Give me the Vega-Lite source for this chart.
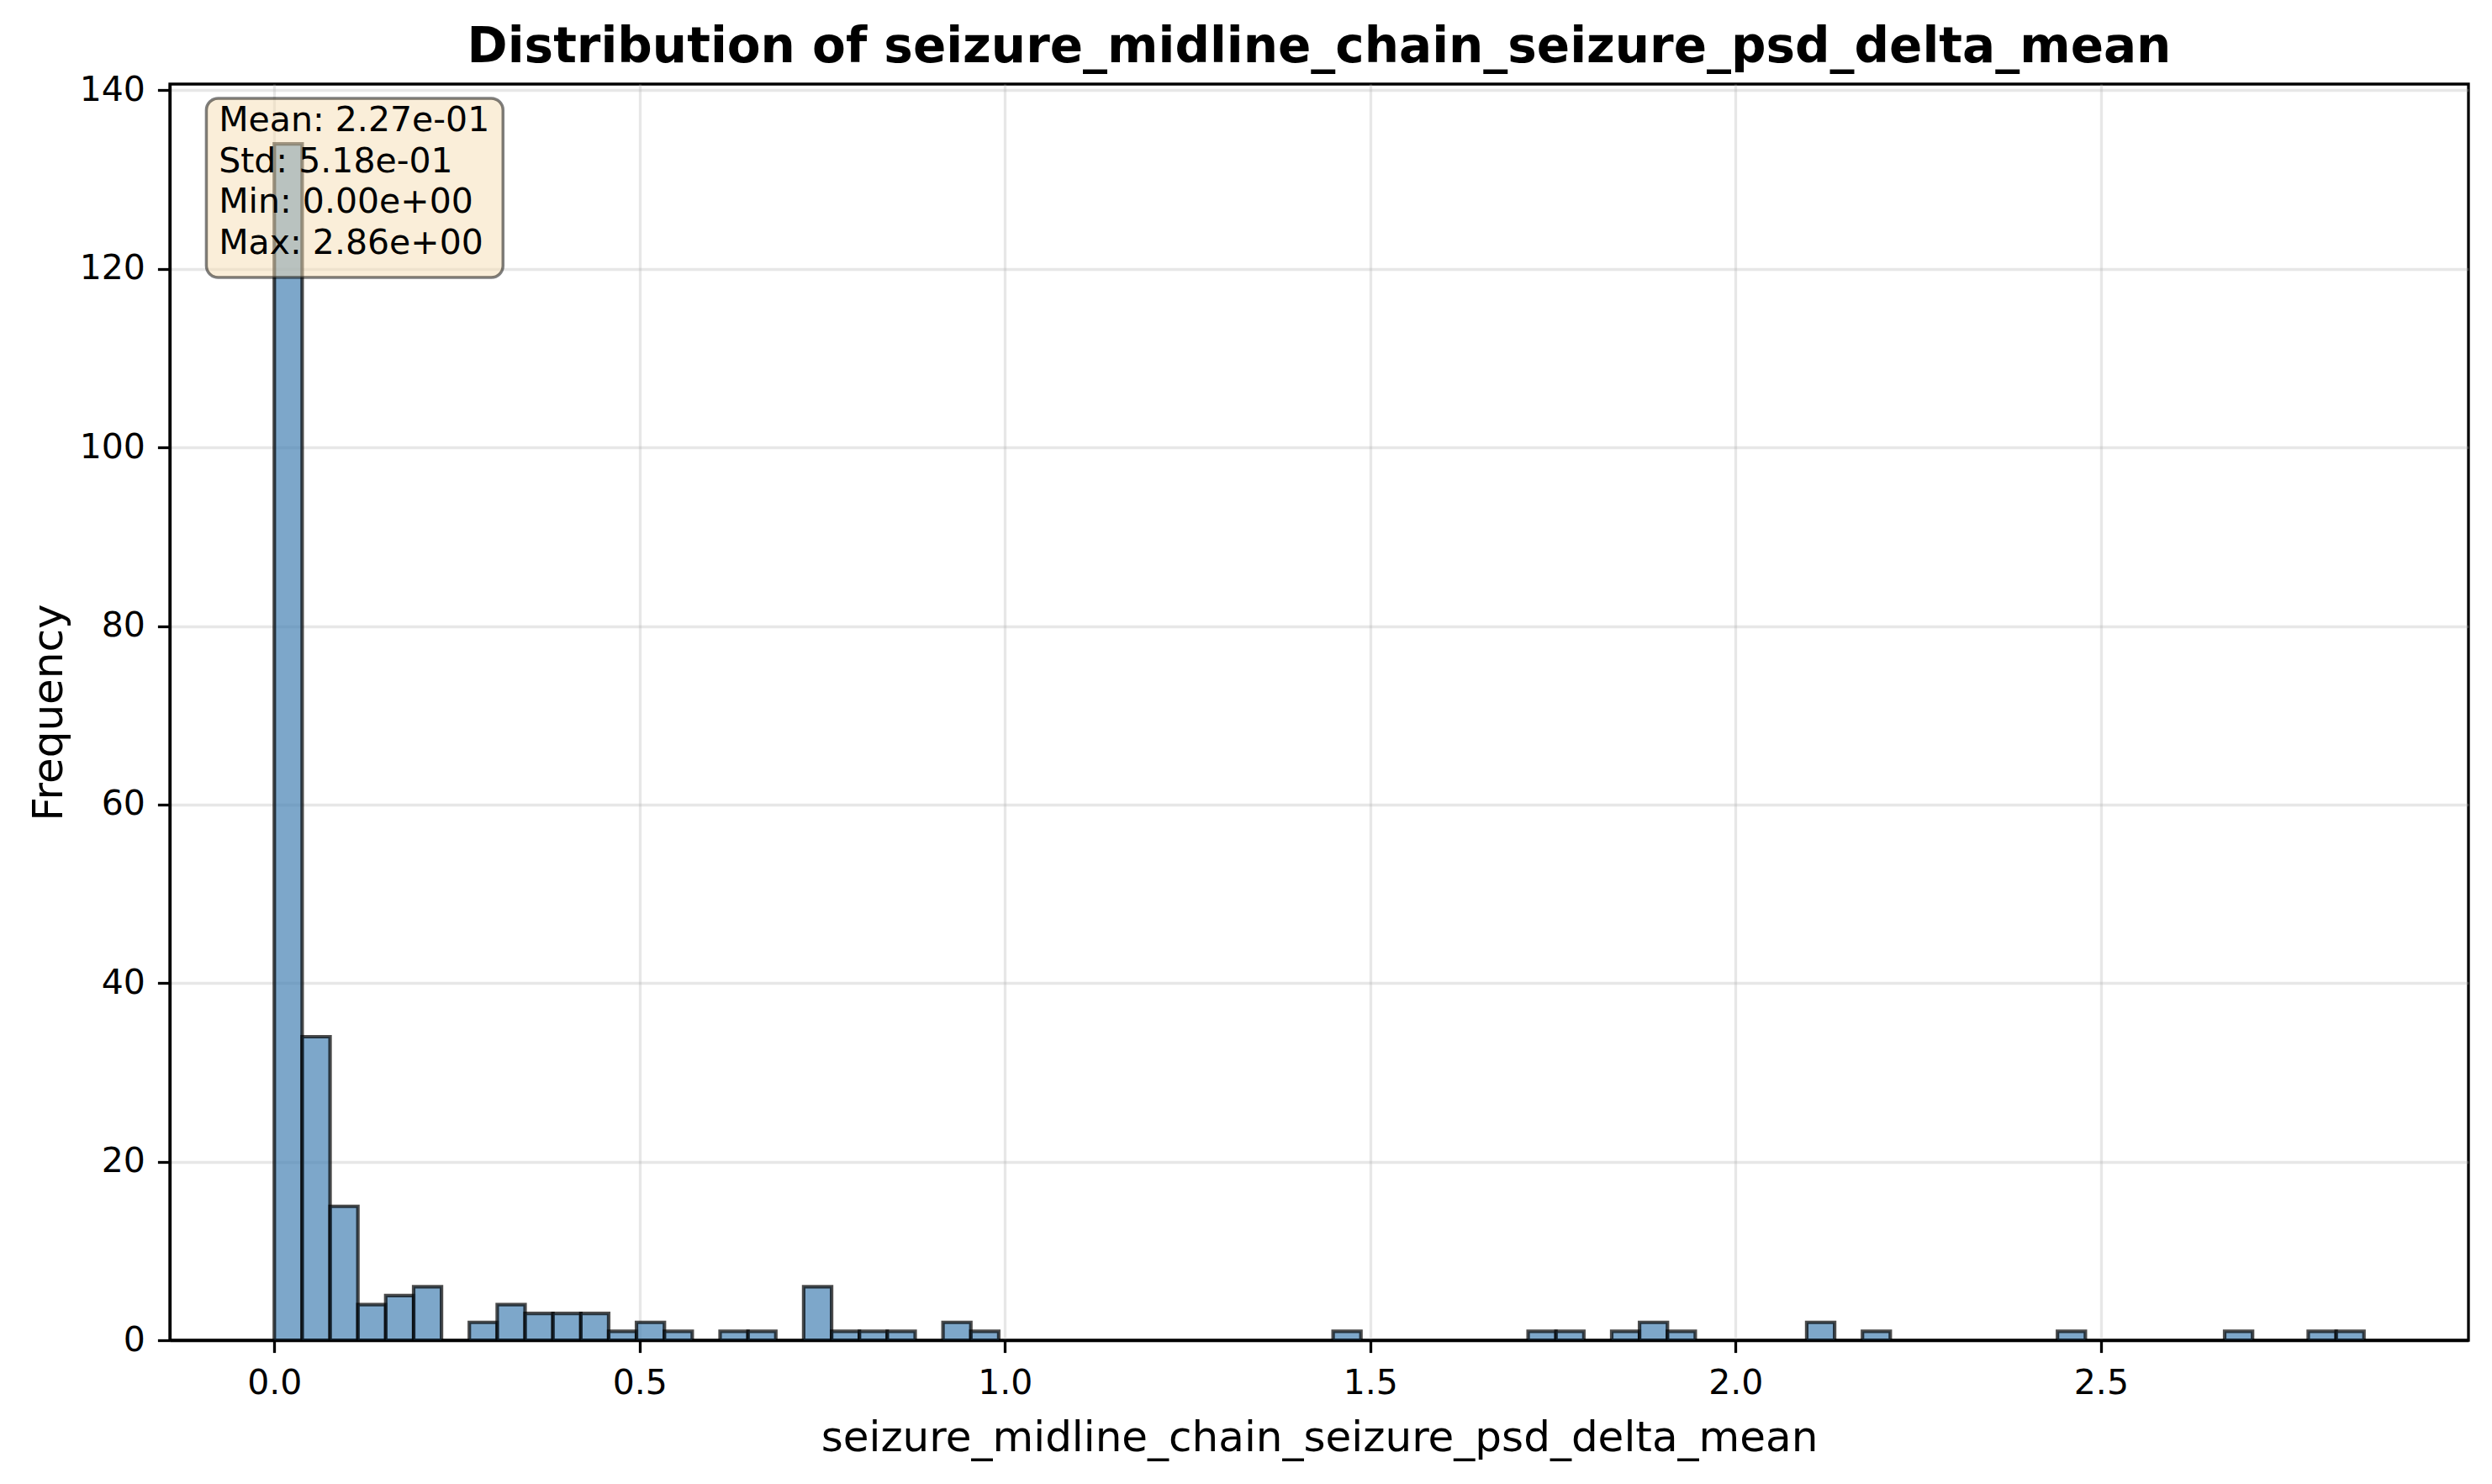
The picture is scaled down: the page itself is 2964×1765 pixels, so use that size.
{
  "$schema": "https://vega.github.io/schema/vega-lite/v6.json",
  "autosize": {"type": "none"},
  "width": 2734,
  "height": 1494,
  "padding": {"left": 202, "top": 100, "right": 28, "bottom": 171},
  "background": "white",
  "title": {
    "text": "Distribution of seizure_midline_chain_seizure_psd_delta_mean",
    "fontSize": 58,
    "fontWeight": "bold",
    "font": "DejaVu Sans",
    "color": "black",
    "anchor": "middle",
    "frame": "group",
    "offset": 0
  },
  "datasets": {
    "bins": [
      {"bin_start": 0.0, "bin_end": 0.0381, "count": 134},
      {"bin_start": 0.0381, "bin_end": 0.0763, "count": 34},
      {"bin_start": 0.0763, "bin_end": 0.1144, "count": 15},
      {"bin_start": 0.1144, "bin_end": 0.1525, "count": 4},
      {"bin_start": 0.1525, "bin_end": 0.1907, "count": 5},
      {"bin_start": 0.1907, "bin_end": 0.2288, "count": 6},
      {"bin_start": 0.2669, "bin_end": 0.3051, "count": 2},
      {"bin_start": 0.3051, "bin_end": 0.3432, "count": 4},
      {"bin_start": 0.3432, "bin_end": 0.3813, "count": 3},
      {"bin_start": 0.3813, "bin_end": 0.4195, "count": 3},
      {"bin_start": 0.4195, "bin_end": 0.4576, "count": 3},
      {"bin_start": 0.4576, "bin_end": 0.4957, "count": 1},
      {"bin_start": 0.4957, "bin_end": 0.5339, "count": 2},
      {"bin_start": 0.5339, "bin_end": 0.572, "count": 1},
      {"bin_start": 0.6101, "bin_end": 0.6483, "count": 1},
      {"bin_start": 0.6483, "bin_end": 0.6864, "count": 1},
      {"bin_start": 0.7245, "bin_end": 0.7627, "count": 6},
      {"bin_start": 0.7627, "bin_end": 0.8008, "count": 1},
      {"bin_start": 0.8008, "bin_end": 0.8389, "count": 1},
      {"bin_start": 0.8389, "bin_end": 0.8771, "count": 1},
      {"bin_start": 0.9152, "bin_end": 0.9533, "count": 2},
      {"bin_start": 0.9533, "bin_end": 0.9915, "count": 1},
      {"bin_start": 1.4491, "bin_end": 1.4872, "count": 1},
      {"bin_start": 1.716, "bin_end": 1.7541, "count": 1},
      {"bin_start": 1.7541, "bin_end": 1.7923, "count": 1},
      {"bin_start": 1.8304, "bin_end": 1.8685, "count": 1},
      {"bin_start": 1.8685, "bin_end": 1.9067, "count": 2},
      {"bin_start": 1.9067, "bin_end": 1.9448, "count": 1},
      {"bin_start": 2.0973, "bin_end": 2.1355, "count": 2},
      {"bin_start": 2.1736, "bin_end": 2.2117, "count": 1},
      {"bin_start": 2.4405, "bin_end": 2.4787, "count": 1},
      {"bin_start": 2.6693, "bin_end": 2.7075, "count": 1},
      {"bin_start": 2.7837, "bin_end": 2.8219, "count": 1},
      {"bin_start": 2.8219, "bin_end": 2.86, "count": 1}
    ],
    "stats": [
      {"lines": ["Mean: 2.27e-01", "Std: 5.18e-01", "Min: 0.00e+00", "Max: 2.86e+00"]}
    ]
  },
  "layer": [
    {
      "data": {"name": "bins"},
      "mark": {
        "type": "bar",
        "fill": "#4682b4",
        "fillOpacity": 0.7,
        "stroke": "black",
        "strokeOpacity": 0.7,
        "strokeWidth": 4.2
      },
      "encoding": {
        "x": {
          "field": "bin_start",
          "type": "quantitative",
          "scale": {"domain": [-0.143, 3.003], "nice": false, "zero": false},
          "axis": {
            "title": "seizure_midline_chain_seizure_psd_delta_mean",
            "values": [0, 0.5, 1, 1.5, 2, 2.5],
            "format": ".1f",
            "labelPadding": 17,
            "titlePadding": 20
          }
        },
        "x2": {"field": "bin_end"},
        "y": {
          "field": "count",
          "type": "quantitative",
          "scale": {"domain": [0, 140.7], "nice": false},
          "axis": {
            "title": "Frequency",
            "values": [0, 20, 40, 60, 80, 100, 120, 140],
            "labelPadding": 15,
            "titlePadding": 11
          }
        },
        "y2": {"datum": 0}
      }
    },
    {
      "data": {"name": "stats"},
      "mark": {
        "type": "rect",
        "fill": "#f5deb3",
        "fillOpacity": 0.5,
        "stroke": "black",
        "strokeOpacity": 0.5,
        "strokeWidth": 3.5,
        "cornerRadius": 14
      },
      "encoding": {
        "x": {"datum": -0.093},
        "x2": {"datum": 0.313},
        "y": {"datum": 139.1},
        "y2": {"datum": 119.04}
      }
    },
    {
      "data": {"name": "stats"},
      "mark": {
        "type": "text",
        "align": "left",
        "baseline": "top",
        "font": "DejaVu Sans",
        "fontSize": 41,
        "lineHeight": 48.5,
        "color": "black"
      },
      "encoding": {
        "x": {"datum": -0.076},
        "y": {"datum": 138.4},
        "text": {"field": "lines"}
      }
    }
  ],
  "config": {
    "font": "DejaVu Sans",
    "view": {"stroke": "black", "strokeWidth": 3.3},
    "axis": {
      "labelFont": "DejaVu Sans",
      "labelFontSize": 41,
      "labelColor": "black",
      "titleFont": "DejaVu Sans",
      "titleFontSize": 50,
      "titleFontWeight": "normal",
      "titleColor": "black",
      "domainColor": "black",
      "domainWidth": 3.3,
      "tickColor": "black",
      "tickWidth": 3.3,
      "tickSize": 14.6,
      "grid": true,
      "gridColor": "#b0b0b0",
      "gridOpacity": 0.3,
      "gridWidth": 3.3
    }
  }
}
